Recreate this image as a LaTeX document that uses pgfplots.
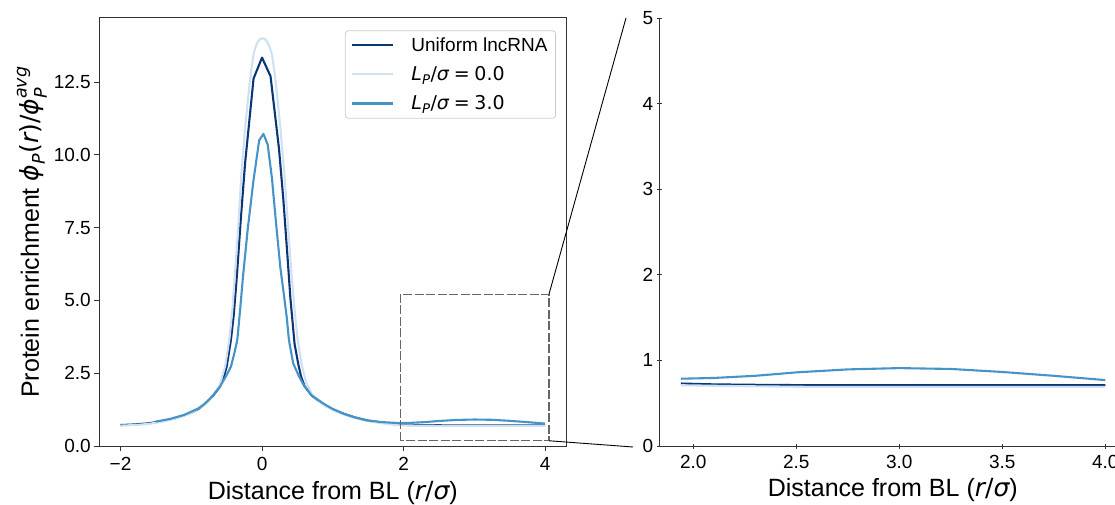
\documentclass[border=0pt]{standalone}
\usepackage{pgfplots}
\pgfplotsset{compat=1.18}
\usepackage{pgfplotstable}
\usepackage{amsmath}
\usepackage{fontspec}
\setmainfont{Liberation Sans}
\newfontfamily\dejavu{DejaVu Sans}
\newcommand{\mti}[1]{{\dejavu\itshape #1}}
\newcommand{\mtr}[1]{{\dejavu #1}}

\definecolor{cDark}{HTML}{0B3675}
\definecolor{cLight}{HTML}{CFE0F1}
\definecolor{cMid}{HTML}{4593C7}
\definecolor{spine}{HTML}{333333}

% Uniform lncRNA
\pgfplotstableread{
x y
-2.00 0.72
-1.80 0.74
-1.60 0.78
-1.40 0.86
-1.20 0.97
-1.00 1.14
-0.90 1.27
-0.80 1.46
-0.70 1.70
-0.60 2.02
-0.55 2.30
-0.50 2.72
-0.44 3.64
-0.40 4.50
-0.36 5.70
-0.30 7.80
-0.24 9.70
-0.12 12.62
0.00 13.34
0.12 12.70
0.24 10.20
0.30 8.50
0.36 6.50
0.40 5.10
0.43 4.30
0.46 3.50
0.51 2.84
0.55 2.40
0.60 2.06
0.70 1.74
0.80 1.55
0.90 1.38
1.00 1.26
1.15 1.11
1.30 0.99
1.50 0.87
1.70 0.80
1.94 0.73
2.10 0.72
2.30 0.715
2.60 0.71
3.00 0.71
3.50 0.71
4.00 0.71
}\uniform

% L_P/sigma = 0.0
\pgfplotstableread{
x y
-2.00 0.70
-1.80 0.72
-1.60 0.76
-1.40 0.84
-1.20 0.96
-1.00 1.13
-0.80 1.45
-0.70 1.72
-0.60 2.08
-0.52 2.75
-0.46 3.70
-0.42 4.67
-0.38 6.00
-0.34 7.40
-0.29 9.40
-0.24 10.90
-0.18 12.35
-0.15 12.95
-0.12 13.45
-0.09 13.72
-0.06 13.88
-0.03 13.97
0.00 14.00
0.03 13.99
0.06 13.93
0.10 13.75
0.14 13.45
0.17 12.95
0.20 12.35
0.26 10.90
0.32 9.20
0.38 7.10
0.42 5.80
0.46 4.67
0.50 3.70
0.56 2.80
0.62 2.20
0.70 1.80
0.80 1.54
0.90 1.37
1.00 1.24
1.15 1.09
1.30 0.97
1.50 0.86
1.70 0.78
1.94 0.71
2.20 0.70
2.60 0.69
3.00 0.69
3.50 0.69
4.00 0.69
}\lpzero

% L_P/sigma = 3.0
\pgfplotstableread{
x y
-1.50 0.84
-1.30 0.93
-1.10 1.07
-0.90 1.29
-0.80 1.47
-0.70 1.72
-0.60 2.02
-0.52 2.35
-0.44 2.72
-0.39 3.20
-0.35 3.64
-0.31 4.67
-0.27 5.80
-0.20 7.50
-0.12 9.14
-0.04 10.50
0.02 10.72
0.08 10.35
0.14 9.20
0.20 7.60
0.26 6.10
0.30 5.36
0.35 4.40
0.38 3.64
0.44 2.84
0.52 2.40
0.60 2.05
0.70 1.74
0.86 1.47
1.00 1.27
1.14 1.12
1.30 0.99
1.48 0.88
1.70 0.82
1.94 0.786
2.10 0.795
2.30 0.82
2.50 0.86
2.75 0.895
3.00 0.91
3.25 0.90
3.50 0.865
3.75 0.82
4.00 0.77
}\lpthree

\pgfplotsset{
  panel/.style={
    scale only axis, width=467pt, height=428pt,
    tick align=outside, major tick length=5pt,
    tick style={spine, line width=1pt},
    axis line style={spine, line width=1pt},
    tick label style={font=\fontsize{19}{22}\selectfont},
    xticklabel style={yshift=-3pt},
    label style={font=\fontsize{25}{30}\selectfont},
    xlabel shift=3pt,
    /pgf/number format/assume math mode=true,
    xlabel={Distance from BL (\mti{r}\mtr{/}\mti{σ})},
  },
  curve/.style={line width=2.1pt, line join=round},
}

\begin{document}
\begin{tikzpicture}[x=1pt,y=1pt]
\begin{axis}[panel,
  at={(99.3pt,58pt)}, anchor=south west,
  xmin=-2.3, xmax=4.3, ymin=0, ymax=14.7,
  xtick={-2,0,2,4}, xticklabels={−2,0,2,4},
  ytick={0,2.5,5,7.5,10,12.5},
  yticklabels={0.0,2.5,5.0,7.5,10.0,12.5},
  tick pos=left,
  ylabel={Protein enrichment $\text{\mti{ϕ}}_{\text{\mti{P}}}\text{\mtr{(}\mti{r}\mtr{)/}\mti{ϕ}}_{\text{\mti{P}}}^{\text{\mti{avg}}}$},
  legend cell align=left,
  legend image code/.code={\draw[#1] (0pt,0pt) -- (41pt,0pt);},
  legend style={at={(0.978,0.971)}, anchor=north east,
    draw=black!20, line width=0.8pt, rounded corners=3pt, fill=white,
    font=\fontsize{19}{22}\selectfont,
    inner xsep=6pt, inner ysep=5pt, row sep=9.5pt, column sep=15pt},
]
\addplot[curve, cDark] table {\uniform};
\addlegendentry{Uniform lncRNA}
\addplot[curve, cLight] table {\lpzero};
\addlegendentry{$\text{\mti{L}}_{\text{\mti{P}}}\text{\mtr{/}\mti{σ}}\mathrel{\text{\mtr{=}}}\text{\mtr{0.0}}$}
\addplot[curve, cMid] table {\lpthree};
\addlegendentry{$\text{\mti{L}}_{\text{\mti{P}}}\text{\mtr{/}\mti{σ}}\mathrel{\text{\mtr{=}}}\text{\mtr{3.0}}$}
% zoomed region
\draw[black!60, line width=1.3pt, dash pattern=on 9pt off 2.5pt]
  (axis cs:1.955,0.18) rectangle (axis cs:4.055,5.21);
\coordinate (boxTR) at (axis cs:4.055,5.21);
\coordinate (boxBR) at (axis cs:4.055,0.18);
\end{axis}

\draw[black, line width=0.9pt] (boxTR) -- (626,486);
\draw[black, line width=0.9pt] (boxBR) -- (633,57);

\begin{axis}[panel,
  at={(659.3pt,58pt)}, anchor=south west,
  xmin=1.835, xmax=4.102, ymin=0, ymax=5,
  xtick={2,2.5,3,3.5,4}, xticklabels={2.0,2.5,3.0,3.5,4.0},
  ytick={0,1,2,3,4,5},
  axis lines=left, axis line style={-},
]
\addplot[curve, cDark, restrict x to domain=1.93:4.01] table {\uniform};
\addplot[curve, cLight, restrict x to domain=1.93:4.01] table {\lpzero};
\addplot[curve, cMid, restrict x to domain=1.93:4.01] table {\lpthree};
\end{axis}

\pgfresetboundingbox
\useasboundingbox (0,0) rectangle (1115,504);
\end{tikzpicture}
\end{document}
